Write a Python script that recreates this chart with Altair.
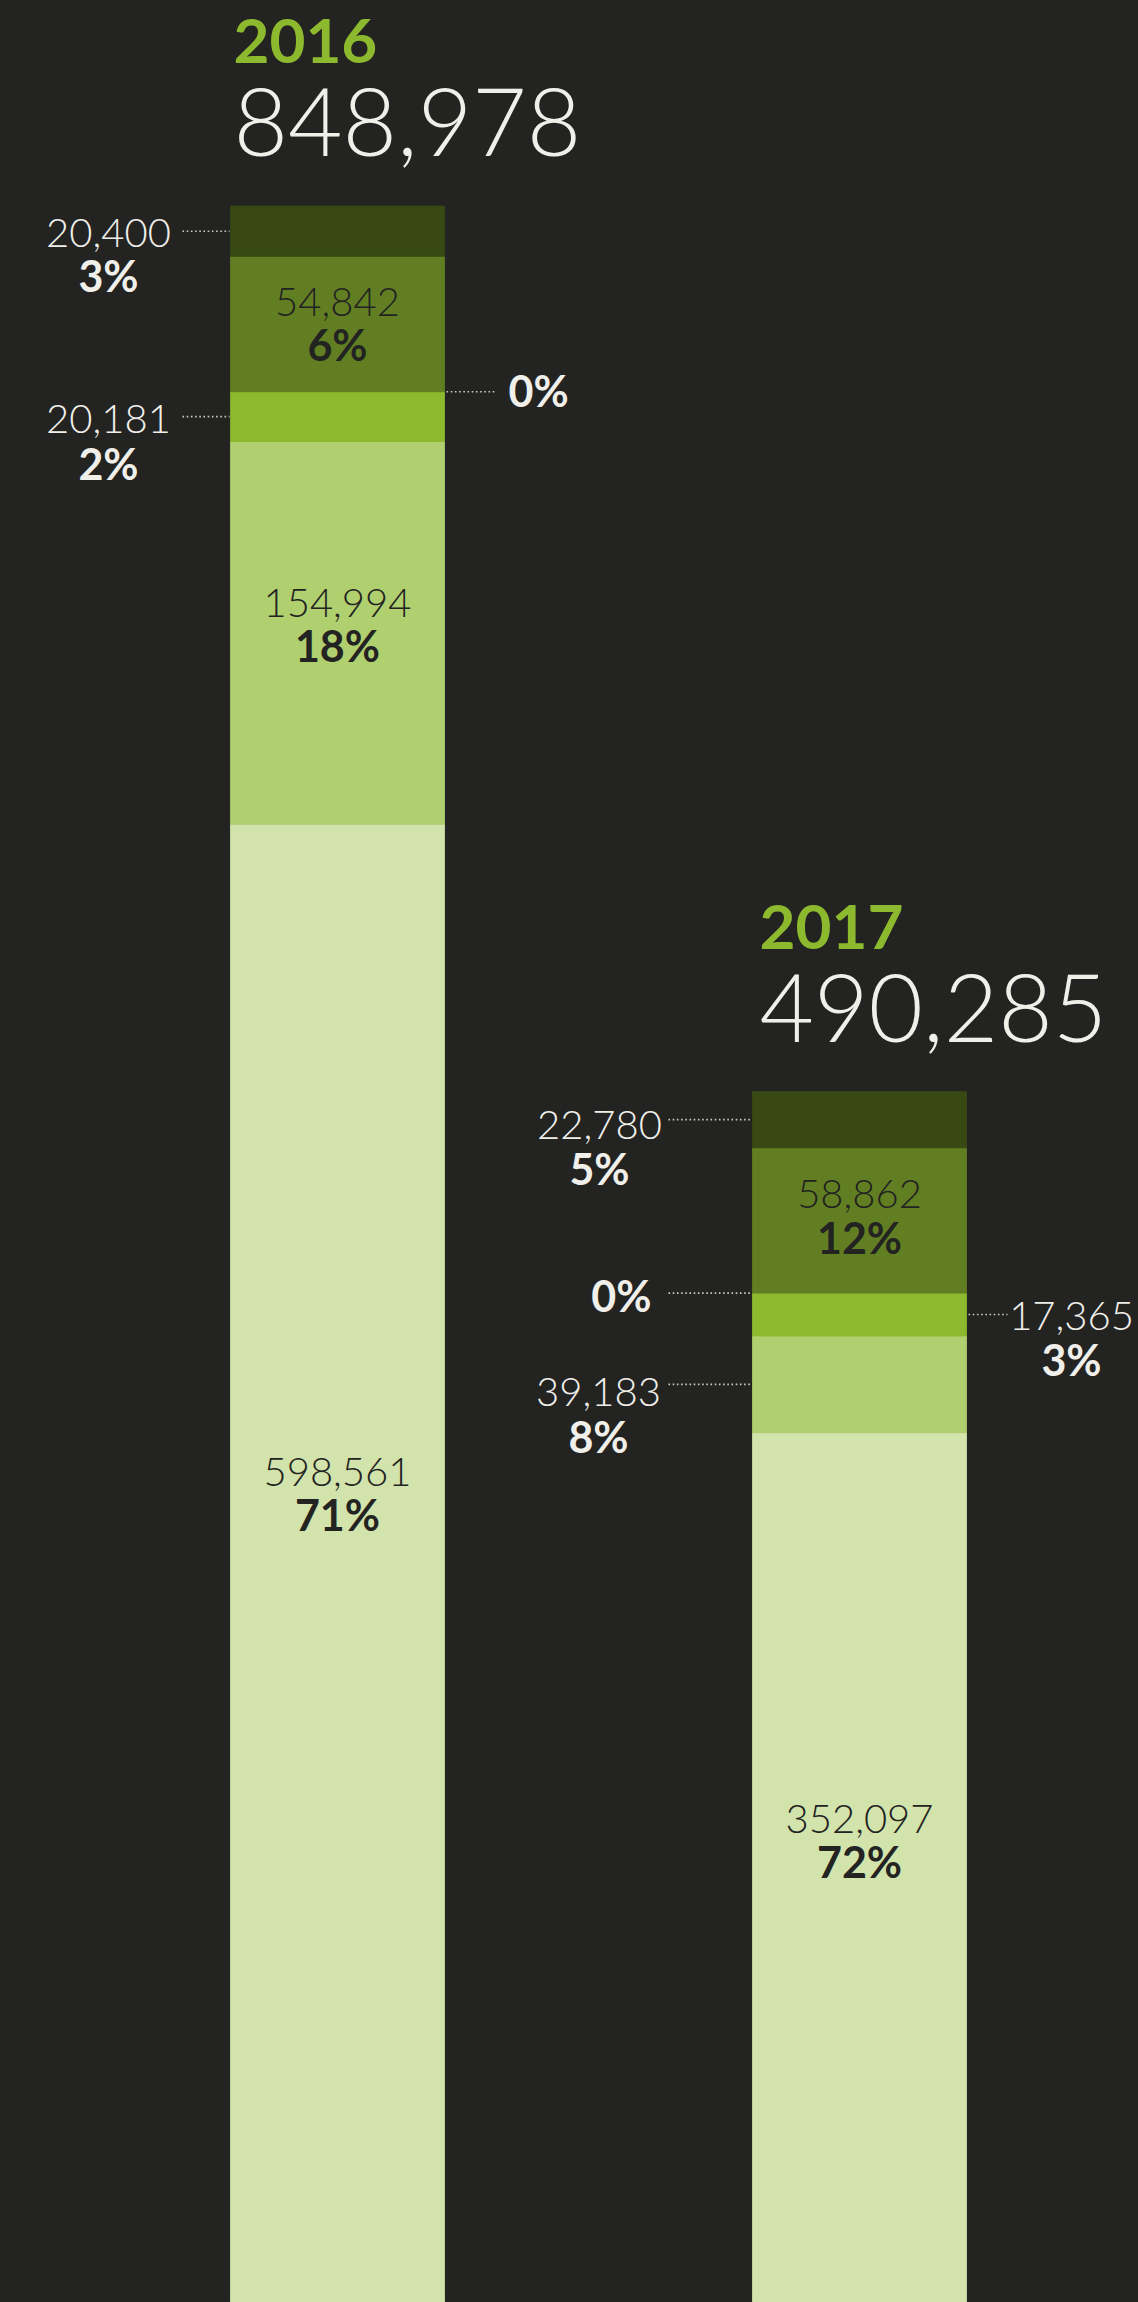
import altair as alt
import pandas as pd

# ---------------- data ----------------
years = ["2016", "2017"]
total_labels = ["848,978", "490,285"]
segments = ["s1", "s2", "s3", "s4", "s5", "s6"]  # bottom -> top
values_2016 = [598561, 154994, 20181, 0, 54842, 20400]
values_2017 = [352097, 39183, 17365, 0, 58862, 22780]
pct_2016 = ["71%", "18%", "2%", "0%", "6%", "3%"]
pct_2017 = ["72%", "8%", "3%", "0%", "12%", "5%"]
colors = ["#d2e3ab", "#b0d070", "#8db92e", "#7aa229", "#617f22", "#384913"]

rows = []
tops = []
for yr, vals, pcts in [("2016", values_2016, pct_2016), ("2017", values_2017, pct_2017)]:
    cum = 0
    for i, (s, v, p) in enumerate(zip(segments, vals, pcts)):
        rows.append(dict(year=yr, seg=s, idx=i, value=v, y0=cum, y1=cum + v,
                         mid=cum + v / 2, num=f"{v:,}", pct=p))
        cum += v
    tops.append(cum)
df = pd.DataFrame(rows)
df_tot = pd.DataFrame(dict(year=years, total=total_labels, top=tops))

# ---------------- style ----------------
BG = "#232322"
WHITE = "#f0efea"
DARK = "#232322"
GREEN = "#8db92e"
FONT = "Lato"
FS_NUM = 40
FS_PCT = 43

xscale = alt.Scale(domain=years, paddingInner=0.59, paddingOuter=0.385, align=0.5734)
yscale = alt.Scale(domain=[0, max(tops)], nice=False, zero=True)
cscale = alt.Scale(domain=segments, range=colors)


def X(bp=0.5):
    return alt.X("year:N", scale=xscale, axis=None, bandPosition=bp)


def Y(field):
    return alt.Y(f"{field}:Q", scale=yscale, axis=None)


bars = alt.Chart(df).transform_filter("datum.value > 0").mark_bar(strokeWidth=0.8).encode(
    x=X(),
    y=Y("y0"),
    y2="y1:Q",
    color=alt.Color("seg:N", scale=cscale, legend=None),
    stroke=alt.Stroke("seg:N", scale=cscale, legend=None),
)


def titles(year, dx):
    base = alt.Chart(df_tot).transform_filter(f"datum.year == '{year}'")
    yr = base.mark_text(
        align="left", baseline="alphabetic", dx=dx, dy=-143, fontSize=62, fontWeight="bold",
        font=FONT, color=GREEN,
    ).encode(x=X(0), y=Y("top"), text="year:N")
    tot = base.mark_text(
        align="left", baseline="alphabetic", dx=dx, dy=-50, fontSize=94, fontWeight=300,
        font=FONT, color=WHITE,
    ).encode(x=X(0), y=Y("top"), text="total:N")
    return [yr, tot]


def sel(year, idx):
    return f"datum.year == '{year}' && datum.idx == {idx}"


def label(year, idx, field, bp, dx, dy, align, color, weight):
    fs = FS_PCT if field == "pct" else FS_NUM
    return alt.Chart(df).transform_filter(sel(year, idx)).mark_text(
        align=align, baseline="alphabetic", dx=dx, dy=dy, fontSize=fs,
        fontWeight=weight, font=FONT, color=color,
    ).encode(x=X(bp), y=Y("mid"), text=f"{field}:N")


def leader(year, idx, bp, off, off2):
    return alt.Chart(df).transform_filter(sel(year, idx)).mark_rule(
        color="#c9c9c6", strokeWidth=1.6, strokeDash=[1.6, 2.6], xOffset=off, x2Offset=off2,
    ).encode(x=X(bp), x2=alt.X2("year:N", bandPosition=bp), y=Y("mid"))


layers = [bars] + titles("2016", 3) + titles("2017", 7)

# ---- 2016 ----
layers += [
    leader("2016", 5, 0, -48, -1),
    label("2016", 5, "num", 0, -122, 15.5, "center", WHITE, 300),
    label("2016", 5, "pct", 0, -122, 61, "center", WHITE, "bold"),
    label("2016", 4, "num", 0.5, 0, -8.5, "center", DARK, 300),
    label("2016", 4, "pct", 0.5, 0, 37, "center", DARK, "bold"),
    leader("2016", 3, 1, 2, 50),
    label("2016", 3, "pct", 1, 64, 15, "left", WHITE, "bold"),
    leader("2016", 2, 0, -48, -1),
    label("2016", 2, "num", 0, -122, 16.5, "center", WHITE, 300),
    label("2016", 2, "pct", 0, -122, 63, "center", WHITE, "bold"),
    label("2016", 1, "num", 0.5, 0, -16, "center", DARK, 300),
    label("2016", 1, "pct", 0.5, 0, 29, "center", DARK, "bold"),
    label("2016", 0, "num", 0.5, 0, -77, "center", DARK, 300),
    label("2016", 0, "pct", 0.5, 0, -32, "center", DARK, "bold"),
]

# ---- 2017 ----
layers += [
    leader("2017", 5, 0, -84, -1),
    label("2017", 5, "num", 0, -153, 19.5, "center", WHITE, 300),
    label("2017", 5, "pct", 0, -153, 65.5, "center", WHITE, "bold"),
    label("2017", 4, "num", 0.5, 0, -12, "center", DARK, 300),
    label("2017", 4, "pct", 0.5, 0, 33.5, "center", DARK, "bold"),
    leader("2017", 3, 0, -84, -1),
    label("2017", 3, "pct", 0, -101, 19, "right", WHITE, "bold"),
    leader("2017", 2, 1, 2, 41),
    label("2017", 2, "num", 1, 105, 15.5, "center", WHITE, 300),
    label("2017", 2, "pct", 1, 105, 61.5, "center", WHITE, "bold"),
    leader("2017", 1, 0, -84, -1),
    label("2017", 1, "num", 0, -154, 21.5, "center", WHITE, 300),
    label("2017", 1, "pct", 0, -154, 68.5, "center", WHITE, "bold"),
    label("2017", 0, "num", 0.5, 0, -34, "center", DARK, 300),
    label("2017", 0, "pct", 0.5, 0, 11, "center", DARK, "bold"),
]

chart = alt.layer(*layers).properties(
    width=1138,
    height=2096,
    padding={"left": 0, "right": 0, "top": 206, "bottom": 0},
    autosize=alt.AutoSizeParams(type="none"),
    background=BG,
).configure_view(stroke=None)

chart.save("out.html", embed_options={"renderer": "svg", "actions": False})
